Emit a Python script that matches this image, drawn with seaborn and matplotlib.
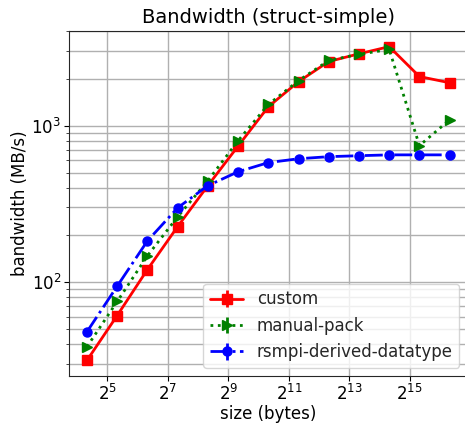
import matplotlib
matplotlib.use("Agg")
import matplotlib.pyplot as plt
import seaborn as sns
import pandas as pd

sns.set_style("ticks", {"axes.grid": True})
plt.rcParams["font.family"] = ["DejaVu Sans"]

# message sizes in bytes
sizes = [20, 40, 80, 160, 320, 640, 1280, 2560, 5120, 10240, 20480, 40960, 81920]

custom = [31.5, 61, 120, 226, 413, 740, 1320, 1910, 2570, 2880, 3200, 2060, 1880]
manual_pack = [38.5, 75, 147, 261, 444, 800, 1365, 1940, 2610, 2860, 3070, 745, 1090]
rsmpi_derived = [48, 94, 183, 298, 413, 507, 580, 614, 633, 642, 650, 650, 650]

series = {
    "custom": custom,
    "manual-pack": manual_pack,
    "rsmpi-derived-datatype": rsmpi_derived,
}
styles = {
    "custom": dict(color="red", linestyle="-", marker="s"),
    "manual-pack": dict(color="green", linestyle=":", marker=">"),
    "rsmpi-derived-datatype": dict(color="blue", linestyle="-.", marker="o"),
}

df = pd.DataFrame(
    [(name, s, v) for name, vals in series.items() for s, v in zip(sizes, vals)],
    columns=["name", "size", "bandwidth"],
)

fig = plt.figure(figsize=(4.65, 4.24), dpi=100)
ax = fig.add_axes([0.148, 0.113, 0.858, 0.814])

for name, grp in df.groupby("name", sort=False):
    ax.errorbar(grp["size"], grp["bandwidth"], yerr=grp["bandwidth"] * 0.0,
                label=name, linewidth=2, markersize=6.5, **styles[name])

ax.set_xscale("log", base=2)
ax.set_yscale("log")
ax.set_xticks([2 ** k for k in range(5, 16, 2)])
ax.grid(True, which="both", color="#b0b0b0", linewidth=1)
ax.tick_params(labelsize=12, pad=2, colors="black")

ax.set_title("Bandwidth (struct-simple)", fontsize=14, color="black")
ax.set_xlabel("size (bytes)", fontsize=12, labelpad=1, color="black")
ax.set_ylabel("bandwidth (MB/s)", fontsize=12, labelpad=2, color="black")
ax.legend(loc="lower right", fontsize=12)

fig.savefig("out.png", dpi=100)
